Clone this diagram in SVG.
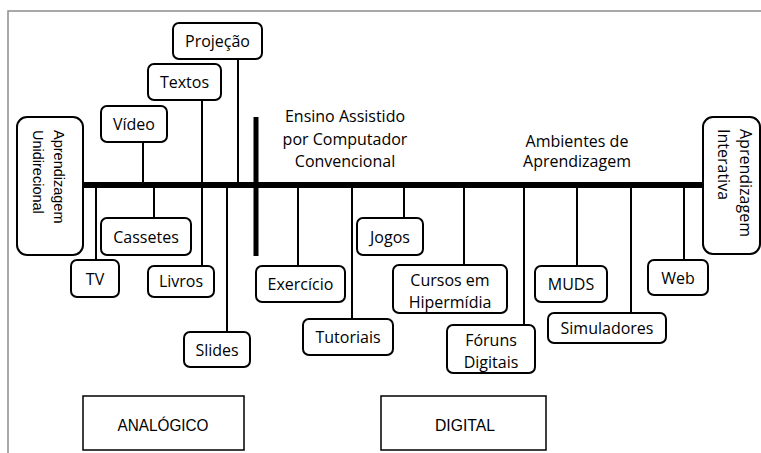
<svg xmlns="http://www.w3.org/2000/svg" width="761" height="453" viewBox="0 0 761 453">
<style>
.box{fill:#fff;stroke:#000;stroke-width:2}
.t{font-family:"Open Sans","Liberation Sans",sans-serif;font-size:16px;fill:#000;text-anchor:middle}
.c{stroke:#000;stroke-width:2;fill:none}
.cat{fill:#fff;stroke:#000;stroke-width:1.5}
.ct{font-family:"Liberation Sans",Arial,sans-serif;font-size:16.5px;fill:#000;text-anchor:middle}
</style>
<rect width="761" height="453" fill="#fff"/>
<path d="M8 453 V11 H761" stroke="#8c8c8c" stroke-width="1.5" fill="none"/>
<g id="connectors">
<line x1="83" y1="185" x2="704" y2="185" stroke="#000" stroke-width="6"/>
<line x1="256" y1="117" x2="256" y2="256" stroke="#000" stroke-width="5"/>
<line class="c" x1="238" y1="59" x2="238" y2="185"/>
<line class="c" x1="202" y1="100" x2="202" y2="266"/>
<line class="c" x1="143" y1="142" x2="143" y2="185"/>
<line class="c" x1="96" y1="185" x2="96" y2="260"/>
<line class="c" x1="154" y1="185" x2="154" y2="218"/>
<line class="c" x1="227" y1="185" x2="227" y2="332"/>
<line class="c" x1="298" y1="185" x2="298" y2="266"/>
<line class="c" x1="352" y1="185" x2="352" y2="319"/>
<line class="c" x1="404" y1="185" x2="404" y2="218"/>
<line class="c" x1="464" y1="185" x2="464" y2="265"/>
<line class="c" x1="524" y1="185" x2="524" y2="325"/>
<line class="c" x1="577" y1="185" x2="577" y2="266"/>
<line class="c" x1="631" y1="185" x2="631" y2="313"/>
<line class="c" x1="684" y1="185" x2="684" y2="260"/>
</g>
<g id="unidirecional">
<rect class="box" x="17" y="117" width="66" height="138" rx="10"/>
<text font-family="'Liberation Sans',Arial,sans-serif" font-size="14.5" transform="translate(54,130) rotate(90)">Aprendizagem</text>
<text font-family="'Liberation Sans',Arial,sans-serif" font-size="14.5" transform="translate(33,130) rotate(90)">Unidirecional</text>
</g>
<g id="interativa">
<rect class="box" x="703" y="117" width="57" height="137" rx="10"/>
<text font-family="'Open Sans','Liberation Sans',sans-serif" font-size="16" transform="translate(740,129) rotate(90)">Aprendizagem</text>
<text font-family="'Open Sans','Liberation Sans',sans-serif" font-size="16" transform="translate(718,129) rotate(90)">Interativa</text>
</g>
<g id="projecao"><rect class="box" x="173" y="23" width="89" height="36" rx="6"/><text class="t" x="217.5" y="47">Projeção</text></g>
<g id="textos"><rect class="box" x="148" y="64" width="73" height="36" rx="6"/><text class="t" x="184.5" y="88">Textos</text></g>
<g id="video"><rect class="box" x="101" y="106" width="66" height="36" rx="6"/><text class="t" x="134" y="130">Vídeo</text></g>
<g id="cassetes"><rect class="box" x="101" y="218" width="90" height="37" rx="6"/><text class="t" x="146" y="242.5">Cassetes</text></g>
<g id="tv"><rect class="box" x="71" y="260" width="48" height="37" rx="6"/><text class="t" x="95" y="284.5">TV</text></g>
<g id="livros"><rect class="box" x="148" y="266" width="66" height="31" rx="6"/><text class="t" x="181" y="287">Livros</text></g>
<g id="slides"><rect class="box" x="184" y="332" width="66" height="35" rx="6"/><text class="t" x="217" y="355.5">Slides</text></g>
<g id="eac-label"><text class="t" x="345" y="122">Ensino Assistido</text><text class="t" x="345" y="145">por Computador</text><text class="t" x="345" y="167">Convencional</text></g>
<g id="ambientes-label"><text class="t" x="577" y="147">Ambientes de</text><text class="t" x="577" y="167">Aprendizagem</text></g>
<g id="exercicio"><rect class="box" x="256" y="266" width="89" height="36" rx="6"/><text class="t" x="300.5" y="290">Exercício</text></g>
<g id="tutoriais"><rect class="box" x="303" y="319" width="90" height="36" rx="6"/><text class="t" x="348" y="343">Tutoriais</text></g>
<g id="jogos"><rect class="box" x="357" y="218" width="66" height="37" rx="6"/><text class="t" x="390" y="242.5">Jogos</text></g>
<g id="cursos"><rect class="box" x="393" y="265" width="114" height="48" rx="6"/><text class="t" x="450" y="285.5">Cursos em</text><text class="t" x="450" y="307.5">Hipermídia</text></g>
<g id="foruns"><rect class="box" x="447" y="325" width="88" height="48" rx="6"/><text class="t" x="491" y="345.5">Fóruns</text><text class="t" x="491" y="367.5">Digitais</text></g>
<g id="muds"><rect class="box" x="535" y="266" width="72" height="36" rx="6"/><text class="t" x="571" y="290">MUDS</text></g>
<g id="simuladores"><rect class="box" x="548" y="313" width="118" height="30" rx="6"/><text class="t" x="607" y="334">Simuladores</text></g>
<g id="web"><rect class="box" x="648" y="260" width="60" height="35" rx="6"/><text class="t" x="678" y="283.5">Web</text></g>
<g id="analogico"><rect class="cat" x="83" y="396" width="161" height="54"/><text class="ct" x="163" y="431" textLength="91" lengthAdjust="spacingAndGlyphs">ANALÓGICO</text></g>
<g id="digital"><rect class="cat" x="381" y="396" width="165" height="54"/><text class="ct" x="465" y="431" textLength="60" lengthAdjust="spacingAndGlyphs">DIGITAL</text></g>
</svg>
